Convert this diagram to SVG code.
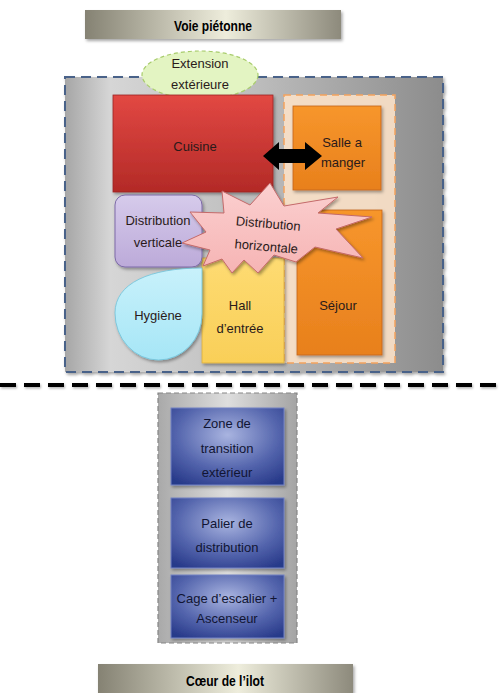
<svg xmlns="http://www.w3.org/2000/svg" width="499" height="693" viewBox="0 0 499 693">
<defs>
  <linearGradient id="gBar" x1="0" y1="0" x2="1" y2="0">
    <stop offset="0" stop-color="#858273"/>
    <stop offset="0.55" stop-color="#eeeddc"/>
    <stop offset="1" stop-color="#8d8a7c"/>
  </linearGradient>
  <linearGradient id="gGray" x1="0" y1="0" x2="1" y2="0">
    <stop offset="0" stop-color="#a6a6a6"/>
    <stop offset="0.12" stop-color="#d6d6d6"/>
    <stop offset="0.5" stop-color="#bdbdbd"/>
    <stop offset="1" stop-color="#8c8c8c"/>
  </linearGradient>
  <linearGradient id="gGray2" x1="0" y1="0" x2="1" y2="0">
    <stop offset="0" stop-color="#a9a9a9"/>
    <stop offset="0.5" stop-color="#dedede"/>
    <stop offset="1" stop-color="#a4a4a4"/>
  </linearGradient>
  <linearGradient id="gRed" x1="0" y1="0" x2="0" y2="1">
    <stop offset="0" stop-color="#e24843"/>
    <stop offset="1" stop-color="#b32a27"/>
  </linearGradient>
  <linearGradient id="gOrange" x1="0" y1="0" x2="0" y2="1">
    <stop offset="0" stop-color="#f7962c"/>
    <stop offset="1" stop-color="#e8801c"/>
  </linearGradient>
  <linearGradient id="gLav" x1="0" y1="0" x2="0" y2="1">
    <stop offset="0" stop-color="#d6cbeb"/>
    <stop offset="1" stop-color="#bcaad9"/>
  </linearGradient>
  <linearGradient id="gCyan" x1="0" y1="0" x2="0" y2="1">
    <stop offset="0" stop-color="#c8f1fb"/>
    <stop offset="1" stop-color="#a6e6f6"/>
  </linearGradient>
  <linearGradient id="gYellow" x1="0" y1="0" x2="0" y2="1">
    <stop offset="0" stop-color="#fedb72"/>
    <stop offset="1" stop-color="#f9cf58"/>
  </linearGradient>
  <linearGradient id="gPink" x1="0" y1="0" x2="0" y2="1">
    <stop offset="0" stop-color="#fbd0d0"/>
    <stop offset="1" stop-color="#f6b4b4"/>
  </linearGradient>
  <radialGradient id="gBlue" cx="0.5" cy="0.35" r="0.75">
    <stop offset="0" stop-color="#a9b4e0"/>
    <stop offset="0.6" stop-color="#5465ad"/>
    <stop offset="1" stop-color="#283a8a"/>
  </radialGradient>
  <filter id="sh" x="-10%" y="-10%" width="125%" height="125%">
    <feDropShadow dx="1.5" dy="2" stdDeviation="1.5" flood-color="#000" flood-opacity="0.35"/>
  </filter>
  <filter id="shLine" filterUnits="userSpaceOnUse" x="0" y="375" width="499" height="20">
    <feDropShadow dx="1" dy="1.5" stdDeviation="1" flood-color="#000" flood-opacity="0.3"/>
  </filter>
</defs>
<style>
  text { font-family: "Liberation Sans", Arial, sans-serif; font-size: 13px; text-anchor: middle; fill: #2a1a1a; }
  .bold { font-weight: bold; font-size: 15px; fill: #000; }
  .lbl-blue { fill: #111533; }
</style>

<g id="voie-pietonne">
  <rect x="85" y="10" width="256" height="29" fill="url(#gBar)" filter="url(#sh)"/>
  <text class="bold" x="213" y="31" textLength="78" lengthAdjust="spacingAndGlyphs">Voie piétonne</text>
</g>

<g id="logement">
  <rect x="65" y="77" width="378" height="295" fill="url(#gGray)" stroke="#4a6289" stroke-width="2" stroke-dasharray="10 6" filter="url(#sh)"/>
</g>

<g id="extension">
  <ellipse cx="200" cy="75" rx="58" ry="24" fill="#e3f4c2" stroke="#a8cc6c" stroke-width="1.2" stroke-dasharray="4 3"/>
  <text x="200" y="68">Extension</text>
  <text x="200" y="89">extérieure</text>
</g>

<g id="zone-jour">
  <rect x="284" y="95" width="111" height="268" fill="#fbe1c8" fill-opacity="0.9" stroke="#f4a25e" stroke-width="1.5" stroke-dasharray="7 5"/>
</g>

<g id="cuisine">
  <rect x="113" y="95" width="160" height="97" fill="url(#gRed)" stroke="#9c2522" stroke-width="0.8" filter="url(#sh)"/>
  <text x="195" y="151">Cuisine</text>
</g>

<g id="salle-a-manger">
  <rect x="293" y="106" width="88" height="84" fill="url(#gOrange)" stroke="#c4631a" stroke-width="0.8" filter="url(#sh)"/>
  <text x="342" y="147">Salle a</text>
  <text x="343" y="167">manger</text>
</g>

<g id="sejour">
  <rect x="297" y="210" width="85" height="145" fill="url(#gOrange)" stroke="#c4631a" stroke-width="0.8" filter="url(#sh)"/>
  <text x="338" y="310">Séjour</text>
</g>

<g id="hall">
  <rect x="202" y="258" width="82" height="105" fill="url(#gYellow)" stroke="#d9ad3e" stroke-width="0.8" filter="url(#sh)"/>
  <text x="240" y="310">Hall</text>
  <text x="240" y="333">d’entrée</text>
</g>

<g id="distribution-verticale">
  <rect x="115" y="195" width="87" height="72" rx="10" fill="url(#gLav)" stroke="#7d6aa8" stroke-width="1" filter="url(#sh)"/>
  <text x="158" y="225">Distribution</text>
  <text x="158" y="247">verticale</text>
</g>

<g id="hygiene">
  <path d="M202 268 L202 314 A43.5 46 0 0 1 158.5 360 A43.5 47 0 0 1 115 313 C115 283 150 268 202 268 Z" fill="url(#gCyan)" stroke="#6ec3da" stroke-width="0.8" filter="url(#sh)"/>
  <text x="158" y="320">Hygiène</text>
</g>

<g id="distribution-horizontale">
  <polygon points="270,183 284,206 338,197 318,213 372,217 336,229 363,258 315,247 296,262 274,255 258,273 244,260 232,273 222,259 203,266 210,250 182,243 206,232 190,212 224,213 222,191 250,205" fill="url(#gPink)" stroke="#c46a6a" stroke-width="1" filter="url(#sh)"/>
  <g transform="rotate(5 267 238)">
    <text x="267" y="228">Distribution</text>
    <text x="267" y="251">horizontale</text>
  </g>
</g>

<g id="connectors">
  <polygon points="263,156 279,142 279,149 305,149 305,142 322,156 305,170 305,163 279,163 279,170" fill="#000"/>
  <line x1="0" y1="385" x2="499" y2="385" stroke="#000" stroke-width="4" stroke-dasharray="16 8" filter="url(#shLine)"/>
</g>

<g id="parties-communes">
  <rect x="158" y="393" width="139" height="250" fill="url(#gGray2)" stroke="#858585" stroke-width="1.2" stroke-dasharray="5 3"/>
</g>

<g id="zone-transition">
  <rect x="171" y="408" width="113" height="77" fill="url(#gBlue)" stroke="#7382c4" stroke-width="1" filter="url(#sh)"/>
  <text class="lbl-blue" x="227" y="428">Zone de</text>
  <text class="lbl-blue" x="227" y="453">transition</text>
  <text class="lbl-blue" x="227" y="477">extérieur</text>
</g>

<g id="palier">
  <rect x="171" y="498" width="113" height="70" fill="url(#gBlue)" stroke="#7382c4" stroke-width="1" filter="url(#sh)"/>
  <text class="lbl-blue" x="227" y="528">Palier de</text>
  <text class="lbl-blue" x="227" y="552">distribution</text>
</g>

<g id="cage-escalier">
  <rect x="171" y="575" width="113" height="63" fill="url(#gBlue)" stroke="#7382c4" stroke-width="1" filter="url(#sh)"/>
  <text class="lbl-blue" x="227" y="603">Cage d’escalier +</text>
  <text class="lbl-blue" x="227" y="623">Ascenseur</text>
</g>

<g id="coeur-ilot">
  <rect x="98" y="664" width="255" height="29" fill="url(#gBar)" filter="url(#sh)"/>
  <text class="bold" x="225" y="686" textLength="78" lengthAdjust="spacingAndGlyphs">Cœur de l’ilot</text>
</g>
</svg>
